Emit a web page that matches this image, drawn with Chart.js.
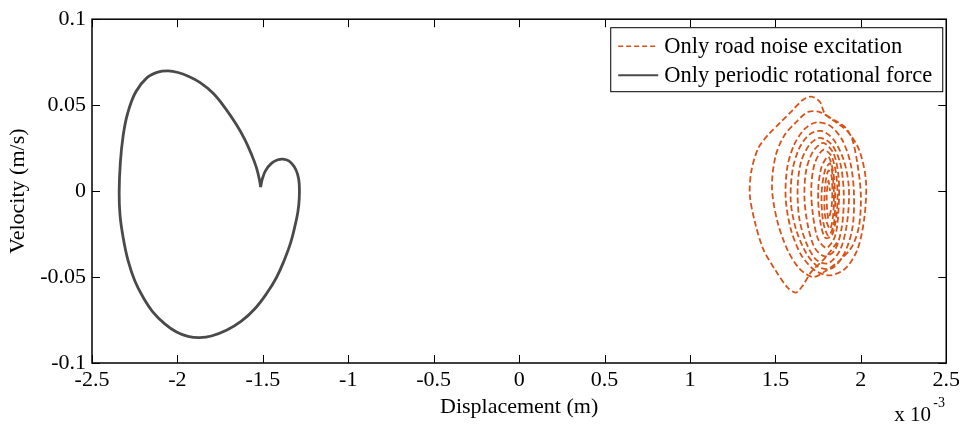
<!DOCTYPE html>
<html>
<head>
<meta charset="utf-8">
<script src="https://cdn.jsdelivr.net/npm/chart.js@4/dist/chart.umd.min.js"></script>
<style>
  html, body { margin: 0; padding: 0; background: #fff; }
</style>
</head>
<body>
<canvas id="phase" width="964" height="426"></canvas>
<script>
// displacement in units of 1e-3 m, velocity in m/s
const xTickValues = [-2.5, -2, -1.5, -1, -0.5, 0, 0.5, 1, 1.5, 2, 2.5];
const yTickValues = [-0.1, -0.05, 0, 0.05, 0.1];

const seriesNames = ['Only road noise excitation', 'Only periodic rotational force'];

// periodic orbit, starts and ends on the cusp
const periodicForce = [
  [-1.513, 0.0023], [-1.503, 0.0071], [-1.484, 0.0119], [-1.450, 0.0161], [-1.412, 0.0182],
  [-1.383, 0.0186], [-1.348, 0.0176], [-1.318, 0.0144], [-1.297, 0.0099], [-1.287, 0.0042],
  [-1.287, -0.0044], [-1.295, -0.0121], [-1.313, -0.0207], [-1.338, -0.0303], [-1.373, -0.0398],
  [-1.421, -0.0504], [-1.480, -0.0599], [-1.548, -0.0686], [-1.626, -0.0757], [-1.713, -0.0810],
  [-1.801, -0.0843], [-1.869, -0.0852], [-1.938, -0.0845], [-2.005, -0.0820], [-2.074, -0.0772],
  [-2.142, -0.0705], [-2.200, -0.0619], [-2.249, -0.0523], [-2.288, -0.0408], [-2.317, -0.0274],
  [-2.336, -0.0140], [-2.341, -0.0006], [-2.334, 0.0167], [-2.318, 0.0320], [-2.292, 0.0450],
  [-2.245, 0.0575], [-2.178, 0.0660], [-2.115, 0.0692], [-2.054, 0.0699], [-1.996, 0.0690],
  [-1.940, 0.0670], [-1.869, 0.0632], [-1.791, 0.0569], [-1.713, 0.0473], [-1.655, 0.0387],
  [-1.606, 0.0301], [-1.567, 0.0215], [-1.538, 0.0138], [-1.519, 0.0061], [-1.513, 0.0023]
];

// road noise response, spiralling in towards ~1.8e-3 m
const roadNoise = [
  [1.86, -0.030], [1.79, -0.039], [1.71, -0.047], [1.66, -0.055], [1.62, -0.059], [1.57, -0.056],
  [1.50, -0.046], [1.43, -0.034], [1.38, -0.018], [1.35, -0.002], [1.36, 0.012], [1.40, 0.025],
  [1.46, 0.033], [1.53, 0.040], [1.60, 0.047], [1.66, 0.053], [1.71, 0.055], [1.76, 0.052],
  [1.79, 0.045], [1.85, 0.041], [1.91, 0.037], [1.95, 0.030], [1.98, 0.016], [2.00, -0.002],
  [1.99, -0.020], [1.95, -0.032],
  [1.88, -0.040], [1.80, -0.046], [1.72, -0.050], [1.64, -0.045], [1.57, -0.034], [1.51, -0.017],
  [1.48, 0.002], [1.50, 0.020], [1.55, 0.032], [1.62, 0.040], [1.69, 0.046], [1.76, 0.046],
  [1.84, 0.041], [1.92, 0.035], [1.99, 0.024], [2.03, 0.006], [2.02, -0.016], [1.98, -0.034],
  [1.91, -0.045],
  [1.82, -0.049], [1.73, -0.046], [1.65, -0.037], [1.59, -0.022], [1.56, -0.004], [1.57, 0.014],
  [1.61, 0.027], [1.67, 0.036], [1.74, 0.040], [1.82, 0.038], [1.89, 0.030], [1.94, 0.016],
  [1.96, -0.002], [1.95, -0.022], [1.90, -0.037],
  [1.83, -0.045], [1.75, -0.044], [1.68, -0.036], [1.62, -0.022], [1.59, -0.006], [1.60, 0.012],
  [1.64, 0.025], [1.70, 0.033], [1.77, 0.035], [1.84, 0.030], [1.90, 0.018], [1.93, 0.002],
  [1.92, -0.018], [1.88, -0.034],
  [1.81, -0.042], [1.74, -0.040], [1.68, -0.030], [1.64, -0.016], [1.63, 0.002], [1.65, 0.017],
  [1.70, 0.027], [1.76, 0.031], [1.83, 0.027], [1.88, 0.016], [1.90, -0.001], [1.89, -0.020],
  [1.85, -0.034],
  [1.79, -0.038], [1.73, -0.033], [1.69, -0.020], [1.67, -0.004], [1.68, 0.012], [1.72, 0.023],
  [1.78, 0.028], [1.84, 0.022], [1.87, 0.008], [1.87, -0.010], [1.85, -0.026],
  [1.80, -0.033], [1.75, -0.028], [1.72, -0.014], [1.71, 0.002], [1.73, 0.016], [1.78, 0.024],
  [1.83, 0.020], [1.86, 0.006], [1.86, -0.012], [1.83, -0.026],
  [1.79, -0.027], [1.76, -0.016], [1.75, 0.000], [1.77, 0.014], [1.81, 0.020], [1.84, 0.010],
  [1.85, -0.006], [1.84, -0.020], [1.81, -0.026],
  [1.78, -0.018], [1.77, -0.002], [1.79, 0.012], [1.82, 0.016], [1.84, 0.004], [1.84, -0.012],
  [1.82, -0.022],
  [1.79, -0.014], [1.79, 0.002], [1.81, 0.012], [1.83, 0.008], [1.83, -0.008], [1.81, -0.016],
  [1.80, -0.004], [1.81, 0.006], [1.82, 0.000]
];

const FONT = { family: 'Liberation Serif', size: 22 };
const LEGEND_FONT = '22.5px Liberation Serif';
const ORANGE = '#D95319';
const GREY = '#4a4a4a';
const TICK_LEN = 8;

function fmt(v) {
  return String(Number(v.toFixed(3)));
}

// box round the axes, inward ticks, legend and the x10^-3 exponent
const matlabAxes = {
  id: 'matlabAxes',
  afterDatasetsDraw(chart) {
    const ctx = chart.ctx;
    const { left, right, top, bottom } = chart.chartArea;
    const xs = chart.scales.x;
    const ys = chart.scales.y;
    ctx.save();

    ctx.strokeStyle = '#000';
    ctx.lineWidth = 1;
    ctx.beginPath();
    xTickValues.forEach(function (v) {
      const px = Math.round(xs.getPixelForValue(v)) + 0.5;
      ctx.moveTo(px, bottom); ctx.lineTo(px, bottom - TICK_LEN);
      ctx.moveTo(px, top); ctx.lineTo(px, top + TICK_LEN);
    });
    yTickValues.forEach(function (v) {
      const py = Math.round(ys.getPixelForValue(v)) + 0.5;
      ctx.moveTo(left, py); ctx.lineTo(left + TICK_LEN, py);
      ctx.moveTo(right, py); ctx.lineTo(right - TICK_LEN, py);
    });
    ctx.stroke();

    ctx.lineWidth = 1.5;
    ctx.strokeRect(left, top, right - left, bottom - top);

    // legend
    ctx.font = LEGEND_FONT;
    const textW = Math.max.apply(null, seriesNames.map(n => ctx.measureText(n).width));
    const boxW = 8 + 40 + 6 + textW + 10;
    const boxH = 64;
    const bx = right - 4 - boxW;
    const by = top + 8;
    ctx.fillStyle = '#fff';
    ctx.fillRect(bx, by, boxW, boxH);
    ctx.lineWidth = 1;
    ctx.strokeStyle = '#000';
    ctx.strokeRect(bx + 0.5, by + 0.5, boxW, boxH);

    const rows = [by + 19, by + 48];
    chart.data.datasets.forEach(function (ds, i) {
      ctx.save();
      ctx.strokeStyle = ds.borderColor;
      ctx.lineWidth = i === 0 ? 1.5 : 2;
      ctx.setLineDash(i === 0 ? [5, 3] : []);
      ctx.beginPath();
      ctx.moveTo(bx + 8, rows[i]);
      ctx.lineTo(bx + 48, rows[i]);
      ctx.stroke();
      ctx.restore();
      ctx.fillStyle = '#000';
      ctx.textAlign = 'left';
      ctx.textBaseline = 'middle';
      ctx.fillText(ds.label, bx + 54, rows[i] + 1);
    });

    // axis multiplier
    ctx.fillStyle = '#000';
    ctx.textBaseline = 'alphabetic';
    ctx.textAlign = 'left';
    ctx.font = '21px ' + FONT.family;
    ctx.fillText('x 10', right - 52, 421);
    ctx.font = '14px ' + FONT.family;
    ctx.fillText('-3', right - 13, 407);

    ctx.restore();
  }
};

new Chart(document.getElementById('phase'), {
  type: 'scatter',
  data: {
    datasets: [{
      label: seriesNames[0],
      data: roadNoise.map(p => ({ x: p[0], y: p[1] })),
      showLine: true,
      borderColor: ORANGE,
      borderWidth: 1.8,
      borderDash: [6, 3],
      tension: 0.3,
      pointRadius: 0
    }, {
      label: seriesNames[1],
      data: periodicForce.map(p => ({ x: p[0], y: p[1] })),
      showLine: true,
      borderColor: GREY,
      borderWidth: 2.8,
      tension: 0.4,
      pointRadius: 0
    }]
  },
  options: {
    responsive: false,
    animation: false,
    layout: { padding: { top: 15, right: 16, left: 0, bottom: 0 } },
    plugins: { legend: { display: false }, tooltip: { enabled: false } },
    scales: {
      x: {
        type: 'linear',
        min: -2.5,
        max: 2.5,
        afterBuildTicks: s => { s.ticks = xTickValues.map(v => ({ value: v })); },
        afterFit: s => { s.height = 63; },
        grid: { display: false, drawTicks: false },
        border: { display: false },
        ticks: { font: FONT, color: '#000', padding: 4, maxRotation: 0, autoSkip: false, callback: v => fmt(v) },
        title: { display: true, text: 'Displacement (m)', font: FONT, color: '#000', padding: { top: 0, bottom: 6 } }
      },
      y: {
        type: 'linear',
        min: -0.1,
        max: 0.1,
        afterBuildTicks: s => { s.ticks = yTickValues.map(v => ({ value: v })); },
        afterFit: s => { s.width = 92; },
        grid: { display: false, drawTicks: false },
        border: { display: false },
        ticks: { font: FONT, color: '#000', padding: 6, autoSkip: false, callback: v => fmt(v) },
        title: { display: true, text: 'Velocity (m/s)', font: FONT, color: '#000', padding: { top: 5, bottom: 0 } }
      }
    }
  },
  plugins: [matlabAxes]
});
</script>
</body>
</html>
